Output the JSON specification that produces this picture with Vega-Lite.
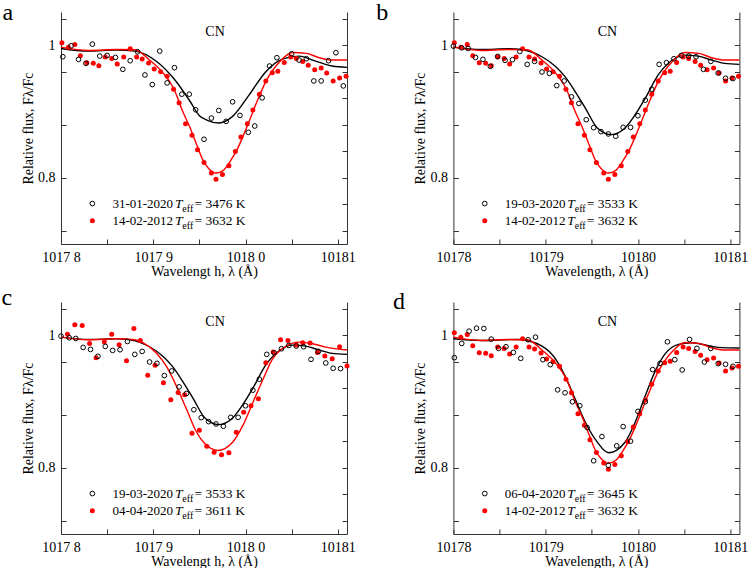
{
  "$schema": "https://vega.github.io/schema/vega-lite/v6.json",
  "padding": {"left": 1, "top": 0, "right": 2, "bottom": 0},
  "background": "white",
  "config": {
    "view": {"stroke": null},
    "font": "Liberation Serif",
    "text": {"font": "Liberation Serif", "color": "black"},
    "axis": {"labelFont": "Liberation Serif", "titleFont": "Liberation Serif", "labelFontSize": 14, "titleFontSize": 14, "titleFontWeight": "normal", "labelColor": "black", "titleColor": "black", "domainColor": "#333", "tickColor": "#333", "grid": false, "labelOverlap": false, "labelFlush": false}
  },
  "datasets": {
    "pts": [
      {"s":"31-01-2020","x":10178.02,"y":0.9825},{"s":"31-01-2020","x":10178.11,"y":0.999},{"s":"31-01-2020","x":10178.19,"y":0.9785},{"s":"31-01-2020","x":10178.27,"y":0.9725},{"s":"31-01-2020","x":10178.34,"y":1.0015},{"s":"31-01-2020","x":10178.42,"y":0.9835},{"s":"31-01-2020","x":10178.5,"y":0.9845},{"s":"31-01-2020","x":10178.59,"y":0.9815},{"s":"31-01-2020","x":10178.67,"y":0.9635},{"s":"31-01-2020","x":10178.75,"y":0.9765},{"s":"31-01-2020","x":10178.83,"y":0.99},{"s":"31-01-2020","x":10178.91,"y":0.955},{"s":"31-01-2020","x":10178.99,"y":0.9405},{"s":"31-01-2020","x":10179.07,"y":0.991},{"s":"31-01-2020","x":10179.15,"y":0.943},{"s":"31-01-2020","x":10179.23,"y":0.966},{"s":"31-01-2020","x":10179.31,"y":0.926},{"s":"31-01-2020","x":10179.39,"y":0.926},{"s":"31-01-2020","x":10179.46,"y":0.9025},{"s":"31-01-2020","x":10179.55,"y":0.858},{"s":"31-01-2020","x":10179.63,"y":0.89},{"s":"31-01-2020","x":10179.71,"y":0.9015},{"s":"31-01-2020","x":10179.79,"y":0.885},{"s":"31-01-2020","x":10179.86,"y":0.9145},{"s":"31-01-2020","x":10179.94,"y":0.894},{"s":"31-01-2020","x":10180.03,"y":0.8685},{"s":"31-01-2020","x":10180.1,"y":0.878},{"s":"31-01-2020","x":10180.18,"y":0.9205},{"s":"31-01-2020","x":10180.26,"y":0.9685},{"s":"31-01-2020","x":10180.34,"y":0.981},{"s":"31-01-2020","x":10180.5,"y":0.987},{"s":"31-01-2020","x":10180.58,"y":0.9775},{"s":"31-01-2020","x":10180.66,"y":0.9795},{"s":"31-01-2020","x":10180.74,"y":0.946},{"s":"31-01-2020","x":10180.82,"y":0.946},{"s":"31-01-2020","x":10180.9,"y":0.9765},{"s":"31-01-2020","x":10180.98,"y":0.9885},{"s":"31-01-2020","x":10181.06,"y":0.9385},
      {"s":"19-03-2020","x":10178.0,"y":0.9985},{"s":"19-03-2020","x":10178.09,"y":0.996},{"s":"19-03-2020","x":10178.16,"y":0.995},{"s":"19-03-2020","x":10178.24,"y":0.9815},{"s":"19-03-2020","x":10178.32,"y":0.9785},{"s":"19-03-2020","x":10178.4,"y":0.968},{"s":"19-03-2020","x":10178.48,"y":0.983},{"s":"19-03-2020","x":10178.56,"y":0.977},{"s":"19-03-2020","x":10178.64,"y":0.978},{"s":"19-03-2020","x":10178.72,"y":0.9905},{"s":"19-03-2020","x":10178.8,"y":0.971},{"s":"19-03-2020","x":10178.88,"y":0.9755},{"s":"19-03-2020","x":10178.96,"y":0.9595},{"s":"19-03-2020","x":10179.04,"y":0.9575},{"s":"19-03-2020","x":10179.12,"y":0.939},{"s":"19-03-2020","x":10179.2,"y":0.946},{"s":"19-03-2020","x":10179.28,"y":0.922},{"s":"19-03-2020","x":10179.36,"y":0.912},{"s":"19-03-2020","x":10179.44,"y":0.8875},{"s":"19-03-2020","x":10179.52,"y":0.8755},{"s":"19-03-2020","x":10179.6,"y":0.8695},{"s":"19-03-2020","x":10179.68,"y":0.866},{"s":"19-03-2020","x":10179.76,"y":0.8625},{"s":"19-03-2020","x":10179.84,"y":0.876},{"s":"19-03-2020","x":10179.92,"y":0.876},{"s":"19-03-2020","x":10180.0,"y":0.8935},{"s":"19-03-2020","x":10180.08,"y":0.917},{"s":"19-03-2020","x":10180.15,"y":0.9335},{"s":"19-03-2020","x":10180.23,"y":0.971},{"s":"19-03-2020","x":10180.31,"y":0.9735},{"s":"19-03-2020","x":10180.39,"y":0.9795},{"s":"19-03-2020","x":10180.47,"y":0.9845},{"s":"19-03-2020","x":10180.55,"y":0.9835},{"s":"19-03-2020","x":10180.63,"y":0.9825},{"s":"19-03-2020","x":10180.71,"y":0.9635},{"s":"19-03-2020","x":10180.79,"y":0.9755},{"s":"19-03-2020","x":10180.87,"y":0.958},{"s":"19-03-2020","x":10180.95,"y":0.95},{"s":"19-03-2020","x":10181.03,"y":0.9495},
      {"s":"06-04-2020","x":10178.01,"y":0.966},{"s":"06-04-2020","x":10178.09,"y":0.9875},{"s":"06-04-2020","x":10178.17,"y":1.006},{"s":"06-04-2020","x":10178.25,"y":1.0105},{"s":"06-04-2020","x":10178.33,"y":1.01},{"s":"06-04-2020","x":10178.41,"y":0.994},{"s":"06-04-2020","x":10178.49,"y":0.98},{"s":"06-04-2020","x":10178.57,"y":0.9825},{"s":"06-04-2020","x":10178.65,"y":0.974},{"s":"06-04-2020","x":10178.73,"y":0.965},{"s":"06-04-2020","x":10178.81,"y":0.993},{"s":"06-04-2020","x":10178.89,"y":0.997},{"s":"06-04-2020","x":10178.97,"y":0.963},{"s":"06-04-2020","x":10179.05,"y":0.9555},{"s":"06-04-2020","x":10179.13,"y":0.9175},{"s":"06-04-2020","x":10179.21,"y":0.913},{"s":"06-04-2020","x":10179.29,"y":0.8995},{"s":"06-04-2020","x":10179.37,"y":0.8935},{"s":"06-04-2020","x":10179.45,"y":0.8605},{"s":"06-04-2020","x":10179.52,"y":0.8105},{"s":"06-04-2020","x":10179.61,"y":0.847},{"s":"06-04-2020","x":10179.68,"y":0.8035},{"s":"06-04-2020","x":10179.77,"y":0.833},{"s":"06-04-2020","x":10179.84,"y":0.862},{"s":"06-04-2020","x":10179.92,"y":0.84},{"s":"06-04-2020","x":10180.0,"y":0.885},{"s":"06-04-2020","x":10180.08,"y":0.8995},{"s":"06-04-2020","x":10180.16,"y":0.948},{"s":"06-04-2020","x":10180.24,"y":0.9575},{"s":"06-04-2020","x":10180.32,"y":0.99},{"s":"06-04-2020","x":10180.4,"y":0.963},{"s":"06-04-2020","x":10180.48,"y":0.9475},{"s":"06-04-2020","x":10180.56,"y":0.9935},{"s":"06-04-2020","x":10180.64,"y":0.98},{"s":"06-04-2020","x":10180.72,"y":0.9595},{"s":"06-04-2020","x":10180.79,"y":0.98},{"s":"06-04-2020","x":10180.87,"y":0.957},{"s":"06-04-2020","x":10180.95,"y":0.956},{"s":"06-04-2020","x":10181.03,"y":0.953},
      {"s":"04-04-2020","x":10178.07,"y":1.0015},{"s":"04-04-2020","x":10178.15,"y":1.0155},{"s":"04-04-2020","x":10178.23,"y":1.0145},{"s":"04-04-2020","x":10178.31,"y":0.9875},{"s":"04-04-2020","x":10178.38,"y":0.966},{"s":"04-04-2020","x":10178.47,"y":0.99},{"s":"04-04-2020","x":10178.55,"y":1.0015},{"s":"04-04-2020","x":10178.63,"y":0.9855},{"s":"04-04-2020","x":10178.71,"y":0.9615},{"s":"04-04-2020","x":10178.79,"y":1.01},{"s":"04-04-2020","x":10178.86,"y":0.992},{"s":"04-04-2020","x":10178.94,"y":0.9395},{"s":"04-04-2020","x":10179.02,"y":0.9545},{"s":"04-04-2020","x":10179.11,"y":0.928},{"s":"04-04-2020","x":10179.19,"y":0.9025},{"s":"04-04-2020","x":10179.27,"y":0.9135},{"s":"04-04-2020","x":10179.34,"y":0.91},{"s":"04-04-2020","x":10179.42,"y":0.852},{"s":"04-04-2020","x":10179.5,"y":0.8565},{"s":"04-04-2020","x":10179.58,"y":0.8325},{"s":"04-04-2020","x":10179.66,"y":0.8235},{"s":"04-04-2020","x":10179.74,"y":0.8195},{"s":"04-04-2020","x":10179.82,"y":0.8225},{"s":"04-04-2020","x":10179.9,"y":0.8535},{"s":"04-04-2020","x":10179.98,"y":0.8835},{"s":"04-04-2020","x":10180.06,"y":0.8935},{"s":"04-04-2020","x":10180.14,"y":0.904},{"s":"04-04-2020","x":10180.22,"y":0.9585},{"s":"04-04-2020","x":10180.3,"y":0.9745},{"s":"04-04-2020","x":10180.38,"y":0.993},{"s":"04-04-2020","x":10180.46,"y":0.992},{"s":"04-04-2020","x":10180.55,"y":0.985},{"s":"04-04-2020","x":10180.62,"y":0.9885},{"s":"04-04-2020","x":10180.7,"y":0.988},{"s":"04-04-2020","x":10180.78,"y":0.974},{"s":"04-04-2020","x":10180.86,"y":0.9685},{"s":"04-04-2020","x":10180.94,"y":0.9645},{"s":"04-04-2020","x":10181.02,"y":0.9825},{"s":"04-04-2020","x":10181.1,"y":0.9535},
      {"s":"14-02-2012","x":10178.01,"y":1.0035},{"s":"14-02-2012","x":10178.08,"y":0.997},{"s":"14-02-2012","x":10178.15,"y":1.001},{"s":"14-02-2012","x":10178.21,"y":0.984},{"s":"14-02-2012","x":10178.28,"y":0.9735},{"s":"14-02-2012","x":10178.35,"y":0.9725},{"s":"14-02-2012","x":10178.41,"y":0.969},{"s":"14-02-2012","x":10178.48,"y":0.982},{"s":"14-02-2012","x":10178.55,"y":0.98},{"s":"14-02-2012","x":10178.61,"y":0.9715},{"s":"14-02-2012","x":10178.68,"y":0.982},{"s":"14-02-2012","x":10178.75,"y":0.9945},{"s":"14-02-2012","x":10178.82,"y":0.982},{"s":"14-02-2012","x":10178.88,"y":0.979},{"s":"14-02-2012","x":10178.95,"y":0.973},{"s":"14-02-2012","x":10179.01,"y":0.964},{"s":"14-02-2012","x":10179.08,"y":0.96},{"s":"14-02-2012","x":10179.15,"y":0.953},{"s":"14-02-2012","x":10179.22,"y":0.9335},{"s":"14-02-2012","x":10179.28,"y":0.913},{"s":"14-02-2012","x":10179.35,"y":0.8815},{"s":"14-02-2012","x":10179.42,"y":0.864},{"s":"14-02-2012","x":10179.48,"y":0.842},{"s":"14-02-2012","x":10179.55,"y":0.823},{"s":"14-02-2012","x":10179.63,"y":0.807},{"s":"14-02-2012","x":10179.68,"y":0.7975},{"s":"14-02-2012","x":10179.75,"y":0.805},{"s":"14-02-2012","x":10179.82,"y":0.818},{"s":"14-02-2012","x":10179.89,"y":0.8395},{"s":"14-02-2012","x":10179.95,"y":0.8615},{"s":"14-02-2012","x":10180.02,"y":0.8815},{"s":"14-02-2012","x":10180.08,"y":0.902},{"s":"14-02-2012","x":10180.15,"y":0.926},{"s":"14-02-2012","x":10180.22,"y":0.946},{"s":"14-02-2012","x":10180.29,"y":0.9585},{"s":"14-02-2012","x":10180.35,"y":0.9605},{"s":"14-02-2012","x":10180.42,"y":0.974},{"s":"14-02-2012","x":10180.49,"y":0.982},{"s":"14-02-2012","x":10180.55,"y":0.98},{"s":"14-02-2012","x":10180.62,"y":0.9755},{"s":"14-02-2012","x":10180.68,"y":0.9695},{"s":"14-02-2012","x":10180.75,"y":0.963},{"s":"14-02-2012","x":10180.82,"y":0.9655},{"s":"14-02-2012","x":10180.88,"y":0.958},{"s":"14-02-2012","x":10180.95,"y":0.946},{"s":"14-02-2012","x":10181.02,"y":0.9505},{"s":"14-02-2012","x":10181.09,"y":0.953}
    ],
    "fits": [
      {"s":"31-01-2020","x":10178.0,"y":0.995},{"s":"31-01-2020","x":10178.3,"y":0.991},{"s":"31-01-2020","x":10178.6,"y":0.9925},{"s":"31-01-2020","x":10178.8,"y":0.991},{"s":"31-01-2020","x":10179.04,"y":0.975},{"s":"31-01-2020","x":10179.22,"y":0.95},{"s":"31-01-2020","x":10179.4,"y":0.915},{"s":"31-01-2020","x":10179.5,"y":0.8935},{"s":"31-01-2020","x":10179.58,"y":0.887},{"s":"31-01-2020","x":10179.71,"y":0.8825},{"s":"31-01-2020","x":10179.86,"y":0.8925},{"s":"31-01-2020","x":10180.04,"y":0.925},{"s":"31-01-2020","x":10180.22,"y":0.96},{"s":"31-01-2020","x":10180.4,"y":0.979},{"s":"31-01-2020","x":10180.58,"y":0.9835},{"s":"31-01-2020","x":10180.76,"y":0.976},{"s":"31-01-2020","x":10180.94,"y":0.9685},{"s":"31-01-2020","x":10181.1,"y":0.9665},
      {"s":"19-03-2020","x":10178.0,"y":0.997},{"s":"19-03-2020","x":10178.3,"y":0.9935},{"s":"19-03-2020","x":10178.6,"y":0.9945},{"s":"19-03-2020","x":10178.75,"y":0.993},{"s":"19-03-2020","x":10178.96,"y":0.9825},{"s":"19-03-2020","x":10179.11,"y":0.9675},{"s":"19-03-2020","x":10179.21,"y":0.9525},{"s":"19-03-2020","x":10179.32,"y":0.93},{"s":"19-03-2020","x":10179.43,"y":0.905},{"s":"19-03-2020","x":10179.56,"y":0.875},{"s":"19-03-2020","x":10179.71,"y":0.865},{"s":"19-03-2020","x":10179.86,"y":0.875},{"s":"19-03-2020","x":10179.97,"y":0.895},{"s":"19-03-2020","x":10180.08,"y":0.92},{"s":"19-03-2020","x":10180.22,"y":0.955},{"s":"19-03-2020","x":10180.36,"y":0.976},{"s":"19-03-2020","x":10180.51,"y":0.985},{"s":"19-03-2020","x":10180.65,"y":0.9835},{"s":"19-03-2020","x":10180.8,"y":0.9775},{"s":"19-03-2020","x":10180.94,"y":0.9725},{"s":"19-03-2020","x":10181.1,"y":0.971},
      {"s":"06-04-2020","x":10178.0,"y":0.9945},{"s":"06-04-2020","x":10178.3,"y":0.992},{"s":"06-04-2020","x":10178.7,"y":0.9935},{"s":"06-04-2020","x":10178.96,"y":0.9835},{"s":"06-04-2020","x":10179.11,"y":0.9635},{"s":"06-04-2020","x":10179.21,"y":0.9385},{"s":"06-04-2020","x":10179.32,"y":0.9035},{"s":"06-04-2020","x":10179.43,"y":0.8685},{"s":"06-04-2020","x":10179.56,"y":0.8385},{"s":"06-04-2020","x":10179.68,"y":0.8225},{"s":"06-04-2020","x":10179.86,"y":0.8385},{"s":"06-04-2020","x":10179.97,"y":0.8685},{"s":"06-04-2020","x":10180.08,"y":0.9085},{"s":"06-04-2020","x":10180.18,"y":0.9435},{"s":"06-04-2020","x":10180.29,"y":0.971},{"s":"06-04-2020","x":10180.44,"y":0.986},{"s":"06-04-2020","x":10180.58,"y":0.9885},{"s":"06-04-2020","x":10180.72,"y":0.9855},{"s":"06-04-2020","x":10180.87,"y":0.9815},{"s":"06-04-2020","x":10181.1,"y":0.9805},
      {"s":"04-04-2020","x":10178.0,"y":0.997},{"s":"04-04-2020","x":10178.3,"y":0.993},{"s":"04-04-2020","x":10178.6,"y":0.9945},{"s":"04-04-2020","x":10178.8,"y":0.993},{"s":"04-04-2020","x":10178.89,"y":0.9885},{"s":"04-04-2020","x":10179.03,"y":0.9735},{"s":"04-04-2020","x":10179.14,"y":0.9535},{"s":"04-04-2020","x":10179.25,"y":0.9235},{"s":"04-04-2020","x":10179.36,"y":0.8885},{"s":"04-04-2020","x":10179.47,"y":0.8535},{"s":"04-04-2020","x":10179.56,"y":0.836},{"s":"04-04-2020","x":10179.7,"y":0.826},{"s":"04-04-2020","x":10179.86,"y":0.8385},{"s":"04-04-2020","x":10179.97,"y":0.8635},{"s":"04-04-2020","x":10180.08,"y":0.8985},{"s":"04-04-2020","x":10180.19,"y":0.9335},{"s":"04-04-2020","x":10180.29,"y":0.9635},{"s":"04-04-2020","x":10180.44,"y":0.9835},{"s":"04-04-2020","x":10180.58,"y":0.9895},{"s":"04-04-2020","x":10180.73,"y":0.987},{"s":"04-04-2020","x":10180.87,"y":0.982},{"s":"04-04-2020","x":10181.1,"y":0.9775},
      {"s":"14-02-2012","x":10178.0,"y":0.997},{"s":"14-02-2012","x":10178.3,"y":0.992},{"s":"14-02-2012","x":10178.6,"y":0.9935},{"s":"14-02-2012","x":10178.8,"y":0.993},{"s":"14-02-2012","x":10178.96,"y":0.9775},{"s":"14-02-2012","x":10179.11,"y":0.9575},{"s":"14-02-2012","x":10179.22,"y":0.935},{"s":"14-02-2012","x":10179.32,"y":0.9},{"s":"14-02-2012","x":10179.4,"y":0.875},{"s":"14-02-2012","x":10179.47,"y":0.85},{"s":"14-02-2012","x":10179.54,"y":0.826},{"s":"14-02-2012","x":10179.6,"y":0.814},{"s":"14-02-2012","x":10179.68,"y":0.807},{"s":"14-02-2012","x":10179.76,"y":0.811},{"s":"14-02-2012","x":10179.84,"y":0.826},{"s":"14-02-2012","x":10179.9,"y":0.84},{"s":"14-02-2012","x":10180.01,"y":0.875},{"s":"14-02-2012","x":10180.11,"y":0.91},{"s":"14-02-2012","x":10180.22,"y":0.945},{"s":"14-02-2012","x":10180.37,"y":0.975},{"s":"14-02-2012","x":10180.51,"y":0.989},{"s":"14-02-2012","x":10180.66,"y":0.9875},{"s":"14-02-2012","x":10180.8,"y":0.981},{"s":"14-02-2012","x":10180.94,"y":0.9775},{"s":"14-02-2012","x":10181.1,"y":0.9775}
    ],
    "leg": [
      {"p":"a","r":1,"date":"31-01-2020","temp":"= 3476 K"},{"p":"a","r":2,"date":"14-02-2012","temp":"= 3632 K"},
      {"p":"b","r":1,"date":"19-03-2020","temp":"= 3533 K"},{"p":"b","r":2,"date":"14-02-2012","temp":"= 3632 K"},
      {"p":"c","r":1,"date":"19-03-2020","temp":"= 3533 K"},{"p":"c","r":2,"date":"04-04-2020","temp":"= 3611 K"},
      {"p":"d","r":1,"date":"06-04-2020","temp":"= 3645 K"},{"p":"d","r":2,"date":"14-02-2012","temp":"= 3632 K"}
    ]
  },
  "columns": 2,
  "spacing": {"row": 58, "column": 106.4},
  "bounds": "flush",
  "concat": [
    {
      "width": 286, "height": 232,
      "layer": [
        {"layer": [
          {"data": {"name": "fits"}, "transform": [{"filter": "datum.s=='31-01-2020'"}], "mark": {"type": "line", "color": "black", "strokeWidth": 1.4, "interpolate": "monotone"},
           "encoding": {
             "x": {"field": "x", "type": "quantitative", "scale": {"domain": [10178, 10181.1], "nice": false, "zero": false}, "axis": {"title": "Wavelengt h, λ (Å)", "values": [10178, 10178.5, 10179, 10179.5, 10180, 10180.5, 10181], "labelExpr": "datum.value==10178?'1017 8':datum.value==10179?'1017 9':datum.value==10180?'1018 0':datum.value==10181?'10181':''", "tickSize": -5, "labelPadding": 11, "titlePadding": 0, "labelOverlap": false}},
             "y": {"field": "y", "type": "quantitative", "scale": {"domain": [0.7, 1.05], "nice": false, "zero": false}, "axis": {"title": null, "values": [0.72, 0.76, 0.8, 0.84, 0.88, 0.92, 0.96, 1.0, 1.04], "labels": false, "tickSize": -5}}
           }},
          {"data": {"name": "fits"}, "transform": [{"filter": "datum.s=='14-02-2012'"}], "mark": {"type": "line", "color": "#ff0000", "strokeWidth": 1.4, "interpolate": "monotone"}, "encoding": {"x": {"field": "x", "type": "quantitative"}, "y": {"field": "y", "type": "quantitative"}}},
          {"data": {"name": "pts"}, "transform": [{"filter": "datum.s=='14-02-2012'"}], "mark": {"type": "point", "shape": "circle", "filled": true, "color": "#ff0000", "opacity": 1, "size": 25}, "encoding": {"x": {"field": "x", "type": "quantitative"}, "y": {"field": "y", "type": "quantitative"}}},
          {"data": {"name": "pts"}, "transform": [{"filter": "datum.s=='31-01-2020'"}], "mark": {"type": "point", "shape": "circle", "filled": false, "color": "black", "strokeWidth": 1, "opacity": 1, "size": 22}, "encoding": {"x": {"field": "x", "type": "quantitative"}, "y": {"field": "y", "type": "quantitative"}}},
          {"data": {"values": [{}]}, "mark": {"type": "text", "text": "a", "fontSize": 24, "align": "left", "baseline": "alphabetic"}, "encoding": {"x": {"datum": 10177.367, "type": "quantitative"}, "y": {"datum": 1.038, "type": "quantitative"}}},
          {"data": {"values": [{}]}, "mark": {"type": "text", "text": "CN", "fontSize": 14, "align": "center", "baseline": "middle"}, "encoding": {"x": {"datum": 10179.67, "type": "quantitative"}, "y": {"datum": 1.02, "type": "quantitative"}}},
          {"data": {"values": [{}]}, "mark": {"type": "point", "shape": "circle", "filled": false, "color": "black", "strokeWidth": 1, "opacity": 1, "size": 22}, "encoding": {"x": {"datum": 10178.34, "type": "quantitative"}, "y": {"datum": 0.761, "type": "quantitative"}}},
          {"data": {"values": [{}]}, "mark": {"type": "point", "shape": "circle", "filled": true, "color": "#ff0000", "opacity": 1, "size": 25}, "encoding": {"x": {"datum": 10178.34, "type": "quantitative"}, "y": {"datum": 0.735, "type": "quantitative"}}},
          {"data": {"name": "leg"}, "transform": [{"filter": "datum.p=='a' && datum.r==1"}], "mark": {"type": "text", "align": "left", "baseline": "middle", "fontSize": 13}, "encoding": {"x": {"datum": 10178.557, "type": "quantitative"}, "y": {"datum": 0.761, "type": "quantitative"}, "text": {"field": "date"}}},
          {"data": {"name": "leg"}, "transform": [{"filter": "datum.p=='a' && datum.r==2"}], "mark": {"type": "text", "align": "left", "baseline": "middle", "fontSize": 13}, "encoding": {"x": {"datum": 10178.557, "type": "quantitative"}, "y": {"datum": 0.735, "type": "quantitative"}, "text": {"field": "date"}}},
          {"data": {"values": [{}]}, "mark": {"type": "text", "text": "T", "fontStyle": "italic", "align": "left", "baseline": "middle", "fontSize": 13.5}, "encoding": {"x": {"datum": 10179.235, "type": "quantitative"}, "y": {"datum": 0.761, "type": "quantitative"}}},
          {"data": {"values": [{}]}, "mark": {"type": "text", "text": "T", "fontStyle": "italic", "align": "left", "baseline": "middle", "fontSize": 13.5}, "encoding": {"x": {"datum": 10179.235, "type": "quantitative"}, "y": {"datum": 0.735, "type": "quantitative"}}},
          {"data": {"values": [{}]}, "mark": {"type": "text", "text": "eff", "align": "left", "baseline": "middle", "fontSize": 10}, "encoding": {"x": {"datum": 10179.315, "type": "quantitative"}, "y": {"datum": 0.753, "type": "quantitative"}}},
          {"data": {"values": [{}]}, "mark": {"type": "text", "text": "eff", "align": "left", "baseline": "middle", "fontSize": 10}, "encoding": {"x": {"datum": 10179.315, "type": "quantitative"}, "y": {"datum": 0.727, "type": "quantitative"}}},
          {"data": {"name": "leg"}, "transform": [{"filter": "datum.p=='a' && datum.r==1"}], "mark": {"type": "text", "align": "left", "baseline": "middle", "fontSize": 13.5}, "encoding": {"x": {"datum": 10179.446, "type": "quantitative"}, "y": {"datum": 0.761, "type": "quantitative"}, "text": {"field": "temp"}}},
          {"data": {"name": "leg"}, "transform": [{"filter": "datum.p=='a' && datum.r==2"}], "mark": {"type": "text", "align": "left", "baseline": "middle", "fontSize": 13.5}, "encoding": {"x": {"datum": 10179.446, "type": "quantitative"}, "y": {"datum": 0.735, "type": "quantitative"}, "text": {"field": "temp"}}}
        ]},
        {"data": {"values": [{}]}, "mark": {"type": "point", "opacity": 0}, "encoding": {"x": {"datum": 10179.5, "type": "quantitative"}, "y": {"datum": 1, "type": "quantitative", "axis": {"orient": "right", "values": [0.72, 0.76, 0.8, 0.84, 0.88, 0.92, 0.96, 1.0, 1.04], "labels": false, "title": null, "tickSize": -5}}}},
        {"data": {"values": [{}]}, "mark": {"type": "point", "opacity": 0}, "encoding": {"x": {"datum": 10179.5, "type": "quantitative"}, "y": {"datum": 1, "type": "quantitative", "axis": {"orient": "left", "values": [0.8, 1], "labelExpr": "datum.value > 0.9 ? '1' : '0.8'", "ticks": false, "domain": false, "labelPadding": 6, "title": "Relative flux, Fλ/Fc", "titlePadding": 2, "labelOverlap": false}}}}
      ],
      "resolve": {"axis": {"y": "independent"}}
    },
    {
      "width": 286, "height": 232,
      "layer": [
        {"layer": [
          {"data": {"name": "fits"}, "transform": [{"filter": "datum.s=='19-03-2020'"}], "mark": {"type": "line", "color": "black", "strokeWidth": 1.4, "interpolate": "monotone"},
           "encoding": {
             "x": {"field": "x", "type": "quantitative", "scale": {"domain": [10178, 10181.1], "nice": false, "zero": false}, "axis": {"title": "Wavelength, λ (Å)", "values": [10178, 10178.5, 10179, 10179.5, 10180, 10180.5, 10181], "labelExpr": "datum.value%1==0?format(datum.value,'d'):''", "tickSize": -5, "labelPadding": 11, "titlePadding": 0, "labelOverlap": false}},
             "y": {"field": "y", "type": "quantitative", "scale": {"domain": [0.7, 1.05], "nice": false, "zero": false}, "axis": {"title": null, "values": [0.72, 0.76, 0.8, 0.84, 0.88, 0.92, 0.96, 1.0, 1.04], "labels": false, "tickSize": -5}}
           }},
          {"data": {"name": "fits"}, "transform": [{"filter": "datum.s=='14-02-2012'"}], "mark": {"type": "line", "color": "#ff0000", "strokeWidth": 1.4, "interpolate": "monotone"}, "encoding": {"x": {"field": "x", "type": "quantitative"}, "y": {"field": "y", "type": "quantitative"}}},
          {"data": {"name": "pts"}, "transform": [{"filter": "datum.s=='14-02-2012'"}], "mark": {"type": "point", "shape": "circle", "filled": true, "color": "#ff0000", "opacity": 1, "size": 25}, "encoding": {"x": {"field": "x", "type": "quantitative"}, "y": {"field": "y", "type": "quantitative"}}},
          {"data": {"name": "pts"}, "transform": [{"filter": "datum.s=='19-03-2020'"}], "mark": {"type": "point", "shape": "circle", "filled": false, "color": "black", "strokeWidth": 1, "opacity": 1, "size": 22}, "encoding": {"x": {"field": "x", "type": "quantitative"}, "y": {"field": "y", "type": "quantitative"}}},
          {"data": {"values": [{}]}, "mark": {"type": "text", "text": "b", "fontSize": 24, "align": "left", "baseline": "alphabetic"}, "encoding": {"x": {"datum": 10177.164, "type": "quantitative"}, "y": {"datum": 1.038, "type": "quantitative"}}},
          {"data": {"values": [{}]}, "mark": {"type": "text", "text": "CN", "fontSize": 14, "align": "center", "baseline": "middle"}, "encoding": {"x": {"datum": 10179.67, "type": "quantitative"}, "y": {"datum": 1.02, "type": "quantitative"}}},
          {"data": {"values": [{}]}, "mark": {"type": "point", "shape": "circle", "filled": false, "color": "black", "strokeWidth": 1, "opacity": 1, "size": 22}, "encoding": {"x": {"datum": 10178.34, "type": "quantitative"}, "y": {"datum": 0.761, "type": "quantitative"}}},
          {"data": {"values": [{}]}, "mark": {"type": "point", "shape": "circle", "filled": true, "color": "#ff0000", "opacity": 1, "size": 25}, "encoding": {"x": {"datum": 10178.34, "type": "quantitative"}, "y": {"datum": 0.735, "type": "quantitative"}}},
          {"data": {"name": "leg"}, "transform": [{"filter": "datum.p=='b' && datum.r==1"}], "mark": {"type": "text", "align": "left", "baseline": "middle", "fontSize": 13}, "encoding": {"x": {"datum": 10178.557, "type": "quantitative"}, "y": {"datum": 0.761, "type": "quantitative"}, "text": {"field": "date"}}},
          {"data": {"name": "leg"}, "transform": [{"filter": "datum.p=='b' && datum.r==2"}], "mark": {"type": "text", "align": "left", "baseline": "middle", "fontSize": 13}, "encoding": {"x": {"datum": 10178.557, "type": "quantitative"}, "y": {"datum": 0.735, "type": "quantitative"}, "text": {"field": "date"}}},
          {"data": {"values": [{}]}, "mark": {"type": "text", "text": "T", "fontStyle": "italic", "align": "left", "baseline": "middle", "fontSize": 13.5}, "encoding": {"x": {"datum": 10179.235, "type": "quantitative"}, "y": {"datum": 0.761, "type": "quantitative"}}},
          {"data": {"values": [{}]}, "mark": {"type": "text", "text": "T", "fontStyle": "italic", "align": "left", "baseline": "middle", "fontSize": 13.5}, "encoding": {"x": {"datum": 10179.235, "type": "quantitative"}, "y": {"datum": 0.735, "type": "quantitative"}}},
          {"data": {"values": [{}]}, "mark": {"type": "text", "text": "eff", "align": "left", "baseline": "middle", "fontSize": 10}, "encoding": {"x": {"datum": 10179.315, "type": "quantitative"}, "y": {"datum": 0.753, "type": "quantitative"}}},
          {"data": {"values": [{}]}, "mark": {"type": "text", "text": "eff", "align": "left", "baseline": "middle", "fontSize": 10}, "encoding": {"x": {"datum": 10179.315, "type": "quantitative"}, "y": {"datum": 0.727, "type": "quantitative"}}},
          {"data": {"name": "leg"}, "transform": [{"filter": "datum.p=='b' && datum.r==1"}], "mark": {"type": "text", "align": "left", "baseline": "middle", "fontSize": 13.5}, "encoding": {"x": {"datum": 10179.446, "type": "quantitative"}, "y": {"datum": 0.761, "type": "quantitative"}, "text": {"field": "temp"}}},
          {"data": {"name": "leg"}, "transform": [{"filter": "datum.p=='b' && datum.r==2"}], "mark": {"type": "text", "align": "left", "baseline": "middle", "fontSize": 13.5}, "encoding": {"x": {"datum": 10179.446, "type": "quantitative"}, "y": {"datum": 0.735, "type": "quantitative"}, "text": {"field": "temp"}}}
        ]},
        {"data": {"values": [{}]}, "mark": {"type": "point", "opacity": 0}, "encoding": {"x": {"datum": 10179.5, "type": "quantitative"}, "y": {"datum": 1, "type": "quantitative", "axis": {"orient": "right", "values": [0.72, 0.76, 0.8, 0.84, 0.88, 0.92, 0.96, 1.0, 1.04], "labels": false, "title": null, "tickSize": -5}}}},
        {"data": {"values": [{}]}, "mark": {"type": "point", "opacity": 0}, "encoding": {"x": {"datum": 10179.5, "type": "quantitative"}, "y": {"datum": 1, "type": "quantitative", "axis": {"orient": "left", "values": [0.8, 1], "labelExpr": "datum.value > 0.9 ? '1' : '0.8'", "ticks": false, "domain": false, "labelPadding": 6, "title": "Relative flux, Fλ/Fc", "titlePadding": 2, "labelOverlap": false}}}}
      ],
      "resolve": {"axis": {"y": "independent"}}
    },
    {
      "width": 286, "height": 232,
      "layer": [
        {"layer": [
          {"data": {"name": "fits"}, "transform": [{"filter": "datum.s=='19-03-2020'"}], "mark": {"type": "line", "color": "black", "strokeWidth": 1.4, "interpolate": "monotone"},
           "encoding": {
             "x": {"field": "x", "type": "quantitative", "scale": {"domain": [10178, 10181.1], "nice": false, "zero": false}, "axis": {"title": "Wavelengt h, λ (Å)", "values": [10178, 10178.5, 10179, 10179.5, 10180, 10180.5, 10181], "labelExpr": "datum.value==10178?'1017 8':datum.value==10179?'1017 9':datum.value==10180?'1018 0':datum.value==10181?'10181':''", "tickSize": -5, "labelPadding": 11, "titlePadding": 0, "labelOverlap": false}},
             "y": {"field": "y", "type": "quantitative", "scale": {"domain": [0.7, 1.05], "nice": false, "zero": false}, "axis": {"title": null, "values": [0.72, 0.76, 0.8, 0.84, 0.88, 0.92, 0.96, 1.0, 1.04], "labels": false, "tickSize": -5}}
           }},
          {"data": {"name": "fits"}, "transform": [{"filter": "datum.s=='04-04-2020'"}], "mark": {"type": "line", "color": "#ff0000", "strokeWidth": 1.4, "interpolate": "monotone"}, "encoding": {"x": {"field": "x", "type": "quantitative"}, "y": {"field": "y", "type": "quantitative"}}},
          {"data": {"name": "pts"}, "transform": [{"filter": "datum.s=='04-04-2020'"}], "mark": {"type": "point", "shape": "circle", "filled": true, "color": "#ff0000", "opacity": 1, "size": 25}, "encoding": {"x": {"field": "x", "type": "quantitative"}, "y": {"field": "y", "type": "quantitative"}}},
          {"data": {"name": "pts"}, "transform": [{"filter": "datum.s=='19-03-2020'"}], "mark": {"type": "point", "shape": "circle", "filled": false, "color": "black", "strokeWidth": 1, "opacity": 1, "size": 22}, "encoding": {"x": {"field": "x", "type": "quantitative"}, "y": {"field": "y", "type": "quantitative"}}},
          {"data": {"values": [{}]}, "mark": {"type": "text", "text": "c", "fontSize": 24, "align": "left", "baseline": "alphabetic"}, "encoding": {"x": {"datum": 10177.356, "type": "quantitative"}, "y": {"datum": 1.046, "type": "quantitative"}}},
          {"data": {"values": [{}]}, "mark": {"type": "text", "text": "CN", "fontSize": 14, "align": "center", "baseline": "middle"}, "encoding": {"x": {"datum": 10179.67, "type": "quantitative"}, "y": {"datum": 1.02, "type": "quantitative"}}},
          {"data": {"values": [{}]}, "mark": {"type": "point", "shape": "circle", "filled": false, "color": "black", "strokeWidth": 1, "opacity": 1, "size": 22}, "encoding": {"x": {"datum": 10178.34, "type": "quantitative"}, "y": {"datum": 0.761, "type": "quantitative"}}},
          {"data": {"values": [{}]}, "mark": {"type": "point", "shape": "circle", "filled": true, "color": "#ff0000", "opacity": 1, "size": 25}, "encoding": {"x": {"datum": 10178.34, "type": "quantitative"}, "y": {"datum": 0.735, "type": "quantitative"}}},
          {"data": {"name": "leg"}, "transform": [{"filter": "datum.p=='c' && datum.r==1"}], "mark": {"type": "text", "align": "left", "baseline": "middle", "fontSize": 13}, "encoding": {"x": {"datum": 10178.557, "type": "quantitative"}, "y": {"datum": 0.761, "type": "quantitative"}, "text": {"field": "date"}}},
          {"data": {"name": "leg"}, "transform": [{"filter": "datum.p=='c' && datum.r==2"}], "mark": {"type": "text", "align": "left", "baseline": "middle", "fontSize": 13}, "encoding": {"x": {"datum": 10178.557, "type": "quantitative"}, "y": {"datum": 0.735, "type": "quantitative"}, "text": {"field": "date"}}},
          {"data": {"values": [{}]}, "mark": {"type": "text", "text": "T", "fontStyle": "italic", "align": "left", "baseline": "middle", "fontSize": 13.5}, "encoding": {"x": {"datum": 10179.235, "type": "quantitative"}, "y": {"datum": 0.761, "type": "quantitative"}}},
          {"data": {"values": [{}]}, "mark": {"type": "text", "text": "T", "fontStyle": "italic", "align": "left", "baseline": "middle", "fontSize": 13.5}, "encoding": {"x": {"datum": 10179.235, "type": "quantitative"}, "y": {"datum": 0.735, "type": "quantitative"}}},
          {"data": {"values": [{}]}, "mark": {"type": "text", "text": "eff", "align": "left", "baseline": "middle", "fontSize": 10}, "encoding": {"x": {"datum": 10179.315, "type": "quantitative"}, "y": {"datum": 0.753, "type": "quantitative"}}},
          {"data": {"values": [{}]}, "mark": {"type": "text", "text": "eff", "align": "left", "baseline": "middle", "fontSize": 10}, "encoding": {"x": {"datum": 10179.315, "type": "quantitative"}, "y": {"datum": 0.727, "type": "quantitative"}}},
          {"data": {"name": "leg"}, "transform": [{"filter": "datum.p=='c' && datum.r==1"}], "mark": {"type": "text", "align": "left", "baseline": "middle", "fontSize": 13.5}, "encoding": {"x": {"datum": 10179.446, "type": "quantitative"}, "y": {"datum": 0.761, "type": "quantitative"}, "text": {"field": "temp"}}},
          {"data": {"name": "leg"}, "transform": [{"filter": "datum.p=='c' && datum.r==2"}], "mark": {"type": "text", "align": "left", "baseline": "middle", "fontSize": 13.5}, "encoding": {"x": {"datum": 10179.446, "type": "quantitative"}, "y": {"datum": 0.735, "type": "quantitative"}, "text": {"field": "temp"}}}
        ]},
        {"data": {"values": [{}]}, "mark": {"type": "point", "opacity": 0}, "encoding": {"x": {"datum": 10179.5, "type": "quantitative"}, "y": {"datum": 1, "type": "quantitative", "axis": {"orient": "right", "values": [0.72, 0.76, 0.8, 0.84, 0.88, 0.92, 0.96, 1.0, 1.04], "labels": false, "title": null, "tickSize": -5}}}},
        {"data": {"values": [{}]}, "mark": {"type": "point", "opacity": 0}, "encoding": {"x": {"datum": 10179.5, "type": "quantitative"}, "y": {"datum": 1, "type": "quantitative", "axis": {"orient": "left", "values": [0.8, 1], "labelExpr": "datum.value > 0.9 ? '1' : '0.8'", "ticks": false, "domain": false, "labelPadding": 6, "title": "Relative flux, Fλ/Fc", "titlePadding": 2, "labelOverlap": false}}}}
      ],
      "resolve": {"axis": {"y": "independent"}}
    },
    {
      "width": 286, "height": 232,
      "layer": [
        {"layer": [
          {"data": {"name": "fits"}, "transform": [{"filter": "datum.s=='06-04-2020'"}], "mark": {"type": "line", "color": "black", "strokeWidth": 1.4, "interpolate": "monotone"},
           "encoding": {
             "x": {"field": "x", "type": "quantitative", "scale": {"domain": [10178, 10181.1], "nice": false, "zero": false}, "axis": {"title": "Wavelength, λ (Å)", "values": [10178, 10178.5, 10179, 10179.5, 10180, 10180.5, 10181], "labelExpr": "datum.value%1==0?format(datum.value,'d'):''", "tickSize": -5, "labelPadding": 11, "titlePadding": 0, "labelOverlap": false}},
             "y": {"field": "y", "type": "quantitative", "scale": {"domain": [0.7, 1.05], "nice": false, "zero": false}, "axis": {"title": null, "values": [0.72, 0.76, 0.8, 0.84, 0.88, 0.92, 0.96, 1.0, 1.04], "labels": false, "tickSize": -5}}
           }},
          {"data": {"name": "fits"}, "transform": [{"filter": "datum.s=='14-02-2012'"}], "mark": {"type": "line", "color": "#ff0000", "strokeWidth": 1.4, "interpolate": "monotone"}, "encoding": {"x": {"field": "x", "type": "quantitative"}, "y": {"field": "y", "type": "quantitative"}}},
          {"data": {"name": "pts"}, "transform": [{"filter": "datum.s=='14-02-2012'"}], "mark": {"type": "point", "shape": "circle", "filled": true, "color": "#ff0000", "opacity": 1, "size": 25}, "encoding": {"x": {"field": "x", "type": "quantitative"}, "y": {"field": "y", "type": "quantitative"}}},
          {"data": {"name": "pts"}, "transform": [{"filter": "datum.s=='06-04-2020'"}], "mark": {"type": "point", "shape": "circle", "filled": false, "color": "black", "strokeWidth": 1, "opacity": 1, "size": 22}, "encoding": {"x": {"field": "x", "type": "quantitative"}, "y": {"field": "y", "type": "quantitative"}}},
          {"data": {"values": [{}]}, "mark": {"type": "text", "text": "d", "fontSize": 24, "align": "left", "baseline": "alphabetic"}, "encoding": {"x": {"datum": 10177.344, "type": "quantitative"}, "y": {"datum": 1.039, "type": "quantitative"}}},
          {"data": {"values": [{}]}, "mark": {"type": "text", "text": "CN", "fontSize": 14, "align": "center", "baseline": "middle"}, "encoding": {"x": {"datum": 10179.67, "type": "quantitative"}, "y": {"datum": 1.02, "type": "quantitative"}}},
          {"data": {"values": [{}]}, "mark": {"type": "point", "shape": "circle", "filled": false, "color": "black", "strokeWidth": 1, "opacity": 1, "size": 22}, "encoding": {"x": {"datum": 10178.34, "type": "quantitative"}, "y": {"datum": 0.761, "type": "quantitative"}}},
          {"data": {"values": [{}]}, "mark": {"type": "point", "shape": "circle", "filled": true, "color": "#ff0000", "opacity": 1, "size": 25}, "encoding": {"x": {"datum": 10178.34, "type": "quantitative"}, "y": {"datum": 0.735, "type": "quantitative"}}},
          {"data": {"name": "leg"}, "transform": [{"filter": "datum.p=='d' && datum.r==1"}], "mark": {"type": "text", "align": "left", "baseline": "middle", "fontSize": 13}, "encoding": {"x": {"datum": 10178.557, "type": "quantitative"}, "y": {"datum": 0.761, "type": "quantitative"}, "text": {"field": "date"}}},
          {"data": {"name": "leg"}, "transform": [{"filter": "datum.p=='d' && datum.r==2"}], "mark": {"type": "text", "align": "left", "baseline": "middle", "fontSize": 13}, "encoding": {"x": {"datum": 10178.557, "type": "quantitative"}, "y": {"datum": 0.735, "type": "quantitative"}, "text": {"field": "date"}}},
          {"data": {"values": [{}]}, "mark": {"type": "text", "text": "T", "fontStyle": "italic", "align": "left", "baseline": "middle", "fontSize": 13.5}, "encoding": {"x": {"datum": 10179.235, "type": "quantitative"}, "y": {"datum": 0.761, "type": "quantitative"}}},
          {"data": {"values": [{}]}, "mark": {"type": "text", "text": "T", "fontStyle": "italic", "align": "left", "baseline": "middle", "fontSize": 13.5}, "encoding": {"x": {"datum": 10179.235, "type": "quantitative"}, "y": {"datum": 0.735, "type": "quantitative"}}},
          {"data": {"values": [{}]}, "mark": {"type": "text", "text": "eff", "align": "left", "baseline": "middle", "fontSize": 10}, "encoding": {"x": {"datum": 10179.315, "type": "quantitative"}, "y": {"datum": 0.753, "type": "quantitative"}}},
          {"data": {"values": [{}]}, "mark": {"type": "text", "text": "eff", "align": "left", "baseline": "middle", "fontSize": 10}, "encoding": {"x": {"datum": 10179.315, "type": "quantitative"}, "y": {"datum": 0.727, "type": "quantitative"}}},
          {"data": {"name": "leg"}, "transform": [{"filter": "datum.p=='d' && datum.r==1"}], "mark": {"type": "text", "align": "left", "baseline": "middle", "fontSize": 13.5}, "encoding": {"x": {"datum": 10179.446, "type": "quantitative"}, "y": {"datum": 0.761, "type": "quantitative"}, "text": {"field": "temp"}}},
          {"data": {"name": "leg"}, "transform": [{"filter": "datum.p=='d' && datum.r==2"}], "mark": {"type": "text", "align": "left", "baseline": "middle", "fontSize": 13.5}, "encoding": {"x": {"datum": 10179.446, "type": "quantitative"}, "y": {"datum": 0.735, "type": "quantitative"}, "text": {"field": "temp"}}}
        ]},
        {"data": {"values": [{}]}, "mark": {"type": "point", "opacity": 0}, "encoding": {"x": {"datum": 10179.5, "type": "quantitative"}, "y": {"datum": 1, "type": "quantitative", "axis": {"orient": "right", "values": [0.72, 0.76, 0.8, 0.84, 0.88, 0.92, 0.96, 1.0, 1.04], "labels": false, "title": null, "tickSize": -5}}}},
        {"data": {"values": [{}]}, "mark": {"type": "point", "opacity": 0}, "encoding": {"x": {"datum": 10179.5, "type": "quantitative"}, "y": {"datum": 1, "type": "quantitative", "axis": {"orient": "left", "values": [0.8, 1], "labelExpr": "datum.value > 0.9 ? '1' : '0.8'", "ticks": false, "domain": false, "labelPadding": 6, "title": "Relative flux, Fλ/Fc", "titlePadding": 2, "labelOverlap": false}}}}
      ],
      "resolve": {"axis": {"y": "independent"}}
    }
  ]
}
